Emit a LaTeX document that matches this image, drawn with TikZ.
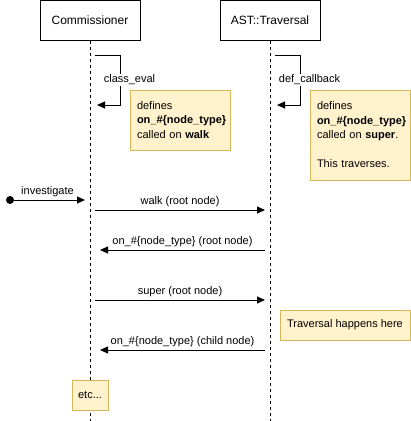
\documentclass[tikz,border=0pt]{standalone}
\usepackage{fontspec}
\setmainfont{Liberation Sans}
\usetikzlibrary{arrows.meta, positioning}
\definecolor{note_fill}{HTML}{FFF2CC}
\definecolor{note_line}{HTML}{D6B656}
\tikzset{
    actor/.style={rectangle, draw, line width=1pt, minimum width=100pt, minimum height=40pt, font=\fontsize{12}{14}\selectfont},
    note/.style={rectangle, draw=note_line, fill=note_fill, line width=1pt, align=left, inner xsep=7pt, font=\fontsize{11}{14.5}\selectfont},
    lifeline/.style={line width=1pt, dash pattern=on 3pt off 3pt},
    arrow/.style={line width=1pt, -{Triangle[length=8pt, width=7pt]}},
    msg/.style={above=3pt, inner sep=0pt, font=\fontsize{11}{13}\selectfont},
    selflabel/.style={fill=white, inner sep=1pt, font=\fontsize{11}{13}\selectfont}
}

\begin{document}
\begin{tikzpicture}[x=1pt, y=-1pt]
        \useasboundingbox (0,0) rectangle (411,421);

        \node (Commissioner_box) [actor] at (90,20) {Commissioner};
        \node (Traversal_box) [actor] at (270,20) {AST::Traversal};

        \coordinate (Commissioner_end) at (90,421);
        \coordinate (Traversal_end) at (270,421);

        % Lifelines
        \draw[lifeline] (Commissioner_box.south) -- (Commissioner_end);
        \draw[lifeline] (Traversal_box.south) -- (Traversal_end);

        % Self calls
        \coordinate (eval_start) at (95,55);
        \coordinate (eval_end) at (97,105);
        \coordinate (callback_start) at (275,55);
        \coordinate (callback_end) at (277,105);
        \draw[arrow] (eval_start) -- (120,55) -- node[selflabel, xshift=9.5pt] {class\_eval} (120,105) -- (eval_end);
        \draw[arrow] (callback_start) -- (300,55) -- node[selflabel, xshift=9.5pt] {def\_callback} (300,105) -- (callback_end);

        \node (walk_note) [note, minimum width=100pt, minimum height=60pt, text width=86pt] at (180,120) {defines\\\textbf{on\_\#\{node\_type\}}\\called on \textbf{walk}};
        \node (super_note) [note, minimum width=100pt, minimum height=90pt, text width=86pt] at (360,135) {defines\\\textbf{on\_\#\{node\_type\}}\\called on \textbf{super}.\\[14.5pt]This traverses.};

        % Messages
        \node (start_dot) [circle, fill, inner sep=0pt, minimum size=8pt] at (10,200) {};
        \coordinate (investigate_end) at (85,200);
        \draw[arrow] (start_dot.center) -- node[msg] {investigate} (investigate_end);

        \coordinate (walk_start) at (95,210);
        \coordinate (walk_end) at (265,210);
        \draw[arrow] (walk_start) -- node[msg] {walk (root node)} (walk_end);

        \coordinate (root_start) at (265,250);
        \coordinate (root_end) at (100,250);
        \draw[arrow] (root_start) -- node[msg] {on\_\#\{node\_type\} (root node)} (root_end);

        \coordinate (super_start) at (95,300);
        \coordinate (super_end) at (265,300);
        \draw[arrow] (super_start) -- node[msg] {super (root node)} (super_end);

        \coordinate (child_start) at (265,350);
        \coordinate (child_end) at (100,350);
        \draw[arrow] (child_start) -- node[msg] {on\_\#\{node\_type\} (child node)} (child_end);

        \node (happens_note) [note, align=center, minimum width=130pt, minimum height=30pt] at (345,325) {Traversal happens here};
        \node (etc_note) [note, align=center, inner xsep=0pt, minimum width=36pt, minimum height=30pt] at (90,395) {etc...};

    \end{tikzpicture}
\end{document}
